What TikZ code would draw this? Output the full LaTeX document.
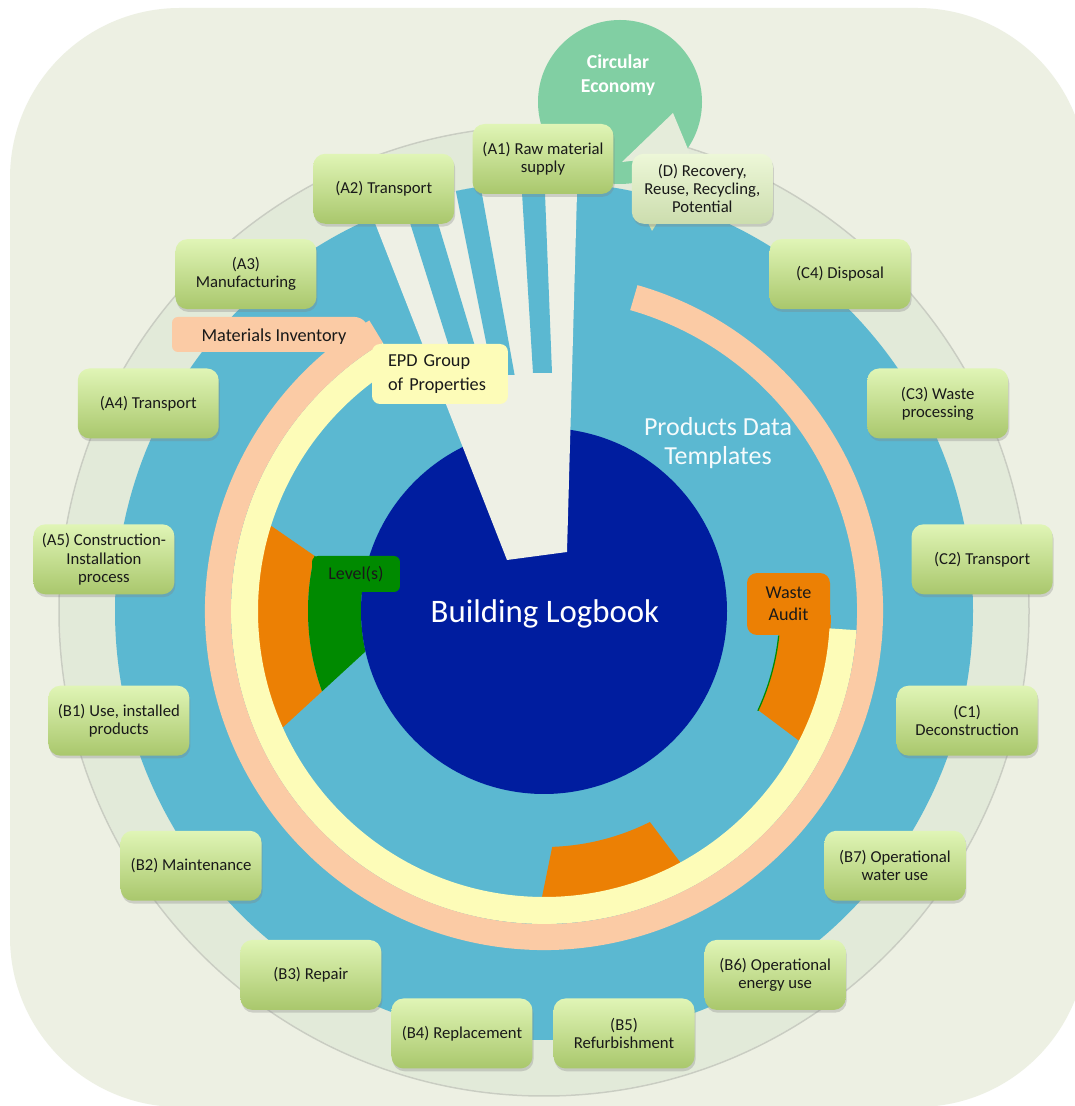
\documentclass[tikz,border=0pt]{standalone}
\usepackage{fontspec}
\setmainfont{Carlito}
\usetikzlibrary{shadows}
\definecolor{bgc}{HTML}{EDF0E3}
\definecolor{ringc}{HTML}{E2EAD9}
\definecolor{ringedge}{HTML}{C9CDC2}
\definecolor{raycol}{HTML}{EEF0E5}
\definecolor{skyc}{HTML}{5BB8D1}
\definecolor{navyc}{HTML}{001D9F}
\definecolor{peachc}{HTML}{FBCBA5}
\definecolor{creamc}{HTML}{FDFCB8}
\definecolor{orangec}{HTML}{EC8004}
\definecolor{greenc}{HTML}{008A00}
\definecolor{mintc}{HTML}{81CFA3}
\definecolor{boxtop}{HTML}{E0F5B6}
\definecolor{boxbot}{HTML}{A9C76C}
\definecolor{paletop}{HTML}{EDF7D8}
\definecolor{palebot}{HTML}{CCDDAE}
\definecolor{tailc}{HTML}{E5ECDA}

\begin{document}
\begin{tikzpicture}[x=0.02cm,y=0.02cm,
  stage/.style={rounded corners=0.24cm, minimum width=2.82cm, minimum height=1.4cm,
    inner sep=0pt, align=center, top color=boxtop, bottom color=boxbot,
    drop shadow={shadow xshift=0.6pt, shadow yshift=-1.6pt, opacity=0.3},
    font=\fontsize{9.5}{10.3}\selectfont, text=black!90},
  palestage/.style={stage, top color=paletop, bottom color=palebot},
  tag/.style={rounded corners=0.14cm, inner sep=0pt, text=black!90,
    font=\fontsize{10.3}{12.5}\selectfont}
]
\useasboundingbox (0,0) rectangle (1075,1106);
\fill[white] (0,0) rectangle (1075,1106);
\coordinate (O) at (544,495);   % centre of the rings
\coordinate (C) at (543,506);   % centre of the circle of stage boxes

\begin{scope}
\clip (0,0) rectangle (1075,1106);
% backdrop
\fill[bgc, rounded corners=3.4cm] (10,-1) rectangle (1087,1098);
% outer ring
\fill[ringc] (O) circle[radius=484];
\draw[ringedge, line width=0.03cm] (O) circle[radius=485];
% circular economy bubble
\fill[mintc] (620,1004) circle[radius=82];
% product data disc
\fill[skyc] (O) circle[radius=429];

% orange / green sectors
\begin{scope}
  \clip (403,489) -- (131,677) -- (157,263) -- cycle;
  \fill[orangec, even odd rule] (O) circle[radius=290] (O) circle[radius=236];
  \fill[greenc, even odd rule] (O) circle[radius=236] (O) circle[radius=183];
\end{scope}
\begin{scope}
  \clip (700,491) -- (950,491) -- (950,252) -- (700,439.5) -- cycle;
  \fill[orangec, even odd rule] (O) circle[radius=287] (O) circle[radius=236];
\end{scope}
\draw[greenc, line width=0.025cm] ([shift={(-6:236)}]O) arc[start angle=-6, end angle=-25, radius=236];
\begin{scope}
  \clip (577,381) -- (507,37) -- (783,107) -- cycle;
  \fill[orangec, even odd rule] (O) circle[radius=290] (O) circle[radius=236];
\end{scope}

% materials inventory and EPD arcs
\draw[creamc, line width=0.54cm] ([shift={(-3.5:299.5)}]O) arc[start angle=-3.5, end angle=-239, radius=299.5];
\draw[peachc, line width=0.52cm] ([shift={(74:326)}]O) arc[start angle=74, end angle=-239, radius=326];
\fill[peachc, rounded corners=0.12cm] (368,754) -- (172,754) -- (172,789) -- (361,789) -- (383,762) -- cycle;

% building logbook disc
\fill[navyc] (O) circle[radius=183];

% light rays fanning in towards the logbook
\begin{scope}
  \clip (O) circle[radius=429];
  \fill[raycol] (346.4,956) -- (578.2,956) -- (567,554) -- (507,546) -- cycle;
  \fill[skyc] (387,956) -- (416,956) -- (483,733) -- (457.4,733) -- cycle;
  \fill[skyc] (447.6,956) -- (474,956) -- (514.6,731) -- (492.6,731) -- cycle;
  \fill[skyc] (519.4,956) -- (543.3,956) -- (552,733) -- (533,733) -- cycle;
\end{scope}

% labels on the rings
\node[font=\fontsize{10.4}{12.5}\selectfont, text=black!90] (mi) at (274,769) {Materials Inventory};
\node[tag, fill=creamc, rounded corners=0.16cm, minimum height=1.2cm, text width=2.08cm,
  inner xsep=0.32cm, align=left, font=\fontsize{10.4}{13.3}\selectfont] (epd) at (440,732)
  {EPD Group\\of Properties};
\node[tag, fill=greenc, rounded corners=0.12cm, minimum width=1.76cm, minimum height=0.72cm,
  font=\fontsize{10.2}{12}\selectfont] (lvl) at (356,532) {Level(s)};
\node[tag, fill=orangec, rounded corners=0.2cm, minimum width=1.66cm, minimum height=1.24cm,
  align=center] (wa) at (788.5,502) {Waste\\Audit};

\node[text=white, font=\fontsize{18.7}{22}\selectfont] (bl) at (545,492) {Building Logbook};
\node[text=white!94!skyc, align=center, font=\fontsize{14.8}{16.4}\selectfont] (pdt) at (718,663)
  {Products Data\\Templates};
\node[text=white, align=center, font=\bfseries\fontsize{11.2}{13.6}\selectfont] (ce) at (618,1031)
  {Circular\\Economy};

% callout pointers of module D
\fill[tailc] (622,944) -- (673,993) -- (690,952) -- cycle;
\fill[palebot] (648,883) -- (657,883) -- (652,875) -- cycle;

% life-cycle stages
\foreach \k/\nm/\txt in {
  0/A1/{(A1) Raw material\\supply},
  1/A2/{(A2) Transport},
  2/A3/{(A3)\\Manufacturing},
  3/A4/{(A4) Transport},
  4/A5/{(A5) Construction-\\Installation\\process},
  5/B1/{(B1) Use, installed\\products},
  6/B2/{(B2) Maintenance},
  7/B3/{(B3) Repair},
  8/B4/{(B4) Replacement},
  9/B5/{(B5)\\Refurbishment},
  10/B6/{(B6) Operational\\energy use},
  11/B7/{(B7) Operational\\water use},
  12/C1/{(C1)\\Deconstruction},
  13/C2/{(C2) Transport},
  14/C3/{(C3) Waste\\processing},
  15/C4/{(C4) Disposal}}
  \node[stage] (\nm) at ([shift={({90+\k*21.17647}:441)}]C) {\txt};
\node[palestage] (D) at ([shift={({90+16*21.17647}:441)}]C) {(D) Recovery,\\Reuse, Recycling,\\Potential};
\end{scope}
\end{tikzpicture}
\end{document}
